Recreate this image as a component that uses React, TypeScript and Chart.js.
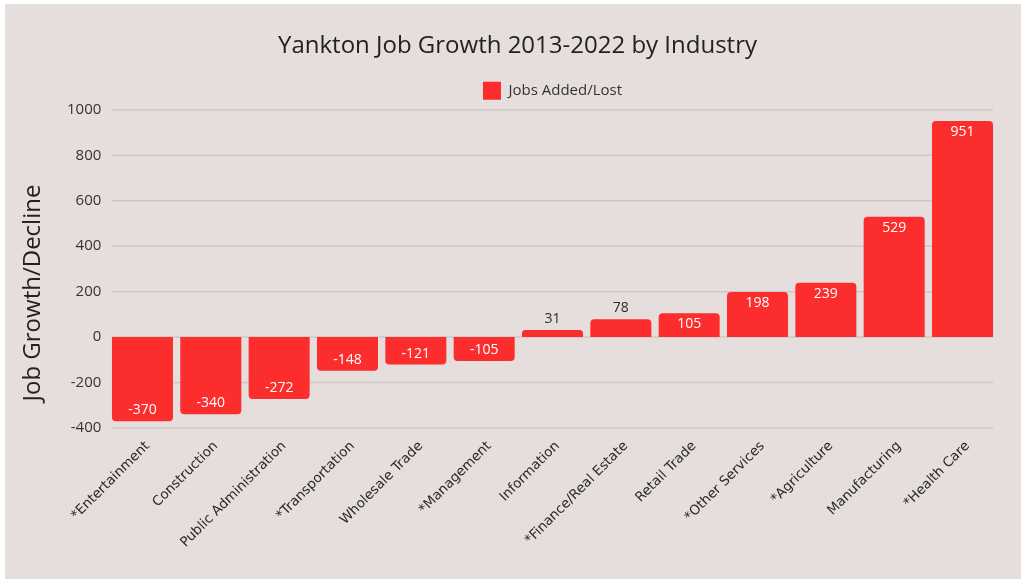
import React, { useEffect, useRef } from "react";
import { Chart, registerables } from "chart.js";

Chart.register(...registerables);

const categories = [
  "*Entertainment",
  "Construction",
  "Public Administration",
  "*Transportation",
  "Wholesale Trade",
  "*Management",
  "Information",
  "*Finance/Real Estate",
  "Retail Trade",
  "*Other Services",
  "*Agriculture",
  "Manufacturing",
  "*Health Care",
];
const jobsAddedLost = [-370, -340, -272, -148, -121, -105, 31, 78, 105, 198, 239, 529, 951];
const yMin = -400;
const yMax = 1000;
const yStep = 200;
const yAxisTitle = "Job Growth/Decline";

const BAR_COLOR = "#fc2d2d";
const BG = "#e6dedd";
const GRID = "#cdc7c6";

const gridPlugin = {
  id: "gridManual",
  beforeDatasetsDraw(chart: any) {
    const ctx = chart.ctx;
    const meta = chart.getDatasetMeta(0);
    const first = meta.data[0] as any;
    const last = meta.data[meta.data.length - 1] as any;
    const x0 = first.x - first.width / 2;
    const x1 = last.x + last.width / 2;
    const yScale = chart.scales.y;
    ctx.save();
    ctx.strokeStyle = GRID;
    ctx.lineWidth = 1.5;
    yScale.ticks.forEach((t: any) => {
      const y = yScale.getPixelForValue(t.value);
      ctx.beginPath();
      ctx.moveTo(x0, y);
      ctx.lineTo(x1, y);
      ctx.stroke();
    });
    ctx.restore();
  },
};

const labelPlugin = {
  id: "barValueLabels",
  afterDatasetsDraw(chart: any) {
    const ctx = chart.ctx;
    const meta = chart.getDatasetMeta(0);
    const data = chart.data.datasets[0].data as number[];
    ctx.save();
    ctx.font = "14px 'Open Sans', sans-serif";
    ctx.textAlign = "center";
    ctx.textBaseline = "middle";
    meta.data.forEach((el: any, i: number) => {
      const v = data[i];
      const h = Math.abs(el.base - el.y);
      let y: number;
      if (h < 20) {
        ctx.fillStyle = "#2b2b2b";
        y = v >= 0 ? el.y - 11 : el.y + 11;
      } else {
        ctx.fillStyle = "#ffffff";
        y = v >= 0 ? el.y + 11 : el.y - 11;
      }
      ctx.fillText(String(v), el.x, y);
    });
    ctx.restore();
  },
};

const xLabelPlugin = {
  id: "xLabelsManual",
  afterDraw(chart: any) {
    const ctx = chart.ctx;
    const xScale = chart.scales.x;
    const bottom = chart.chartArea.bottom;
    ctx.save();
    ctx.font = "13.5px 'DejaVu Sans', sans-serif";
    ctx.fillStyle = "#2b2b2b";
    ctx.textAlign = "right";
    ctx.textBaseline = "middle";
    categories.forEach((c, i) => {
      const x = xScale.getPixelForTick(i);
      ctx.save();
      ctx.translate(x + 5, bottom + 16);
      ctx.rotate(-Math.PI / 4);
      ctx.fillText(c, 0, 0);
      ctx.restore();
    });
    ctx.restore();
  },
};

const yTitlePlugin = {
  id: "yTitleManual",
  afterDraw(chart: any) {
    const ctx = chart.ctx;
    ctx.save();
    ctx.translate(28, 289);
    ctx.rotate(-Math.PI / 2);
    ctx.font = "24px 'Open Sans', sans-serif";
    ctx.fillStyle = "#222";
    ctx.textAlign = "center";
    ctx.textBaseline = "middle";
    ctx.fillText(yAxisTitle, 0, 0);
    ctx.restore();
  },
};

export default function App() {
  const ref = useRef<HTMLCanvasElement | null>(null);
  useEffect(() => {
    if (!ref.current) return;
    const chart = new Chart(ref.current, {
      type: "bar",
      data: {
        labels: categories,
        datasets: [
          {
            label: "Jobs Added/Lost",
            data: jobsAddedLost,
            backgroundColor: BAR_COLOR,
            borderRadius: 4,
            borderSkipped: "start",
            barPercentage: 0.893,
            categoryPercentage: 1,
          },
        ],
      },
      options: {
        animation: false,
        responsive: false,
        maintainAspectRatio: false,
        layout: { padding: { left: 33.3, right: 24.3, top: 0, bottom: 143 } },
        plugins: {
          title: {
            display: true,
            text: "Yankton Job Growth 2013-2022 by Industry",
            color: "#222",
            font: { family: "'Open Sans', sans-serif", size: 24, weight: "normal" },
            padding: { top: 28, bottom: 11 },
          },
          legend: {
            display: true,
            position: "top",
            fullSize: false,
            labels: {
              color: "#333",
              font: { family: "'Open Sans', sans-serif", size: 15 },
              boxWidth: 18,
              boxHeight: 18,
              padding: 10,
            },
          },
          tooltip: { enabled: false },
        },
        scales: {
          x: {
            display: true,
            grid: { display: false },
            border: { display: false },
            ticks: { display: false },
          },
          y: {
            min: yMin,
            max: yMax,
            grid: { display: false, drawTicks: false },
            border: { display: false },
            afterFit: (scale: any) => {
              scale.width = 70;
            },
            ticks: {
              stepSize: yStep,
              color: "#333",
              font: { family: "'Open Sans', sans-serif", size: 15 },
              padding: 7,
              callback: (v: any) => String(v),
            },
          },
        },
      },
      plugins: [gridPlugin, labelPlugin, xLabelPlugin, yTitlePlugin],
    });
    return () => chart.destroy();
  }, []);
  return (
    <div style={{ position: "absolute", left: 0, top: 0, width: 1021, height: 580, background: "#ffffff" }}>
      <div style={{ position: "absolute", left: 5, top: 4, width: 1016, height: 575, background: BG }}>
        <canvas ref={ref} width={1016} height={575} style={{ display: "block" }} />
      </div>
    </div>
  );
}
